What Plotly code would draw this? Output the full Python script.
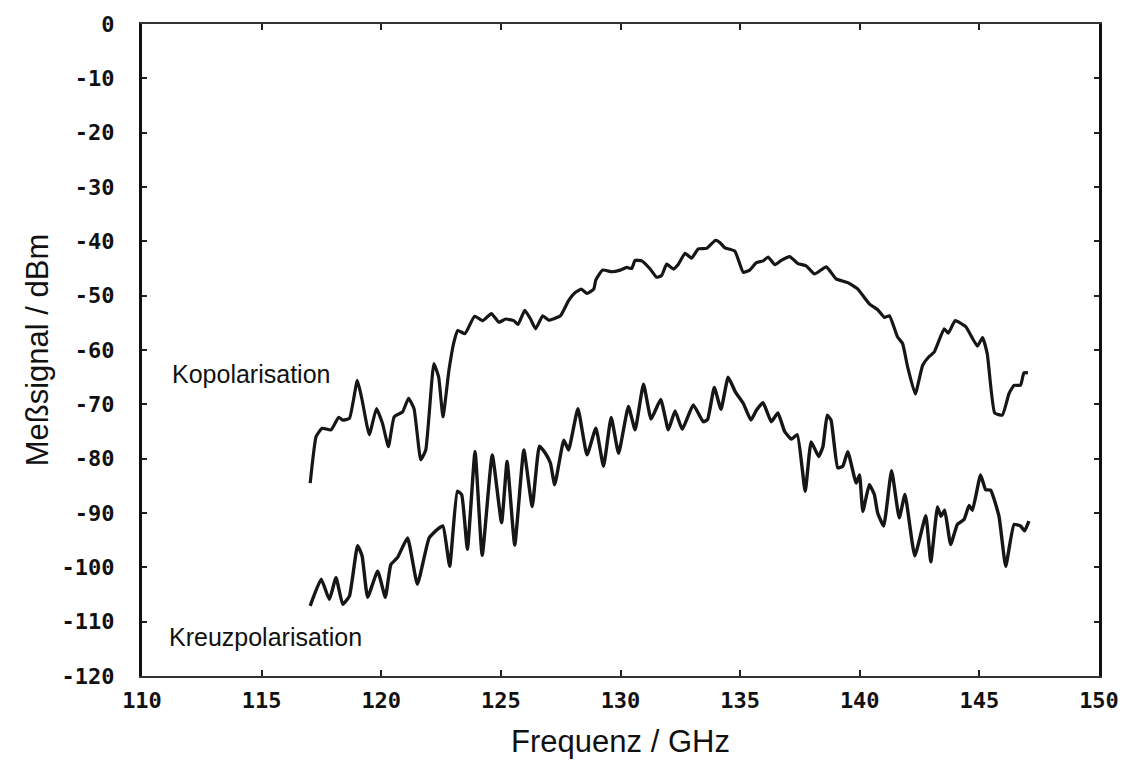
import plotly.graph_objects as go

# Kopolarisation (co-polar) measured signal
ko_freq = [117.03, 117.28, 117.53, 117.9, 118.22, 118.39, 118.67, 119.0, 119.2, 119.5,
           119.8, 120.05, 120.3, 120.54, 120.89, 121.14, 121.37, 121.65, 121.86, 122.2,
           122.4, 122.58, 122.83, 123.04, 123.2, 123.5, 123.9, 124.25, 124.6, 124.92,
           125.2, 125.54, 125.72, 126.0, 126.24, 126.45, 126.75, 127.0, 127.49, 127.83,
           128.11, 128.36, 128.6, 128.88, 128.97, 129.25, 129.64, 129.99, 130.26, 130.47,
           130.61, 130.89, 131.24, 131.51, 131.72, 131.93, 132.21, 132.42, 132.7, 132.97,
           133.25, 133.6, 133.97, 134.15, 134.36, 134.78, 135.13, 135.4, 135.68, 135.96,
           136.17, 136.45, 136.72, 137.07, 137.42, 137.76, 138.11, 138.6, 139.01, 139.5,
           139.92, 140.4, 140.75, 141.03, 141.24, 141.58, 141.79, 142.0, 142.32, 142.63,
           142.9, 143.11, 143.53, 143.7, 143.99, 144.43, 144.92, 145.13, 145.33, 145.64,
           145.96, 146.24, 146.45, 146.72, 146.86, 147.03]
ko_dbm = [-84.5, -75.9, -74.4, -74.7, -72.4, -72.9, -72.6, -65.6, -69.2, -75.6,
          -70.8, -73.5, -77.8, -72.3, -71.4, -68.9, -70.8, -80.2, -78.4, -62.5,
          -65.0, -72.3, -63.7, -58.5, -56.4, -57.0, -53.8, -54.6, -53.3, -54.9,
          -54.3, -54.6, -55.3, -52.7, -54.3, -56.1, -53.7, -54.5, -53.7, -50.9,
          -49.4, -48.8, -49.6, -48.8, -47.1, -45.3, -45.6, -45.3, -44.8, -45.0,
          -43.5, -43.6, -45.1, -46.6, -46.3, -44.2, -45.1, -44.2, -42.2, -43.1,
          -41.4, -41.3, -39.8, -40.2, -41.2, -41.8, -45.7, -45.3, -43.9, -43.6,
          -42.9, -44.3, -43.5, -42.8, -44.1, -44.5, -46.0, -44.7, -46.9, -47.6,
          -48.8, -51.5, -52.6, -54.0, -53.7, -57.6, -58.8, -63.1, -68.1, -62.8,
          -61.2, -60.4, -56.1, -56.9, -54.6, -55.7, -59.3, -57.7, -60.7, -71.6,
          -72.0, -68.0, -66.5, -66.5, -64.2, -64.2]

# Kreuzpolarisation (cross-polar) measured signal
kr_freq = [117.03, 117.49, 117.83, 118.11, 118.39, 118.67, 119.01, 119.2, 119.43, 119.85,
           120.17, 120.4, 120.68, 121.1, 121.51, 122.0, 122.35, 122.58, 122.86, 123.18,
           123.36, 123.6, 123.92, 124.22, 124.64, 125.03, 125.26, 125.58, 125.96, 126.31,
           126.61, 126.86, 127.07, 127.25, 127.63, 127.83, 128.22, 128.6, 128.97, 129.29,
           129.61, 129.92, 130.33, 130.61, 130.96, 131.28, 131.68, 132.0, 132.28, 132.58,
           133.04, 133.46, 133.64, 133.92, 134.2, 134.5, 134.8, 135.13, 135.45, 135.68,
           135.96, 136.3, 136.58, 136.86, 137.14, 137.39, 137.72, 137.97, 138.28, 138.46,
           138.64, 138.8, 139.08, 139.29, 139.5, 139.85, 139.99, 140.13, 140.4, 140.61,
           140.75, 141.0, 141.33, 141.65, 141.89, 142.3, 142.76, 142.97, 143.25, 143.39,
           143.55, 143.8, 144.08, 144.36, 144.57, 144.71, 145.05, 145.26, 145.47, 145.82,
           146.1, 146.45, 146.72, 146.89, 147.07]
kr_dbm = [-107.1, -102.2, -105.9, -101.9, -106.8, -105.3, -96.0, -97.9, -105.5, -100.7,
          -105.5, -99.5, -98.2, -94.6, -103.1, -94.6, -93.0, -92.4, -99.8, -86.0,
          -86.6, -96.7, -78.7, -97.8, -79.3, -91.8, -80.5, -95.9, -78.4, -88.8,
          -77.7, -79.0, -80.8, -84.8, -76.6, -78.4, -70.8, -79.3, -74.4, -81.4,
          -72.4, -79.0, -70.4, -74.7, -66.3, -72.7, -69.1, -74.7, -71.2, -74.6,
          -70.1, -73.2, -72.8, -66.9, -70.9, -65.0, -67.7, -69.8, -72.9, -71.1,
          -69.7, -73.2, -71.6, -75.0, -76.4, -75.6, -86.0, -76.9, -79.6, -77.8,
          -72.0, -72.9, -81.7, -81.4, -78.7, -84.5, -83.0, -89.7, -84.8, -86.6,
          -90.0, -92.4, -82.2, -90.9, -86.6, -97.9, -90.5, -99.0, -88.9, -90.6,
          -89.5, -95.8, -92.1, -91.2, -88.6, -89.5, -83.0, -85.7, -85.8, -90.6,
          -99.8, -92.1, -92.4, -93.3, -91.5]

x_ticks = [110, 115, 120, 125, 130, 135, 140, 145, 150]
y_ticks = [0, -10, -20, -30, -40, -50, -60, -70, -80, -90, -100, -110, -120]

labels = ["Kopolarisation", "Kreuzpolarisation"]
label_x = [111.15, 111.05]
label_y = [-64.4, -112.8]

line_color = "#161616"

fig = go.Figure()
fig.add_trace(go.Scatter(x=ko_freq, y=ko_dbm, mode="lines",
                         line=dict(color=line_color, width=3.2, shape="spline", smoothing=0.4),
                         showlegend=False))
fig.add_trace(go.Scatter(x=kr_freq, y=kr_dbm, mode="lines",
                         line=dict(color=line_color, width=3.4, shape="spline", smoothing=0.4),
                         showlegend=False))

for t, lx, ly in zip(labels, label_x, label_y):
    fig.add_annotation(x=lx, y=ly, xref="x", yref="y", text=t, showarrow=False,
                       xanchor="left", yanchor="middle",
                       font=dict(family="Liberation Sans", size=25, color="#111"))

tick_font = dict(family="DejaVu Sans Mono", size=22, color="#111", weight="bold")
title_font = dict(family="Liberation Sans", size=31, color="#111")

fig.update_layout(
    width=1131, height=765,
    margin=dict(l=142, r=30, t=22, b=88),
    paper_bgcolor="white", plot_bgcolor="white",
    xaxis=dict(range=[110, 150], tickvals=x_ticks, ticktext=[str(v) for v in x_ticks],
               showgrid=False, zeroline=False, showline=True, linecolor="#333",
               linewidth=2, mirror="ticks", ticks="inside", ticklen=6, tickwidth=2,
               tickcolor="#222", tickfont=tick_font, ticklabelstandoff=4,
               title=dict(text="Frequenz / GHz", standoff=18, font=title_font)),
    yaxis=dict(range=[-120, 0], tickvals=y_ticks, ticktext=[str(v) for v in y_ticks],
               showgrid=False, zeroline=False, showline=True, linecolor="#111",
               linewidth=3, mirror="ticks", ticks="inside", ticklen=5, tickwidth=2,
               tickcolor="#222", tickfont=tick_font, ticklabelstandoff=20,
               title=dict(text="Meßsignal / dBm", standoff=4, font=title_font)),
)

fig.write_html("out.html")
